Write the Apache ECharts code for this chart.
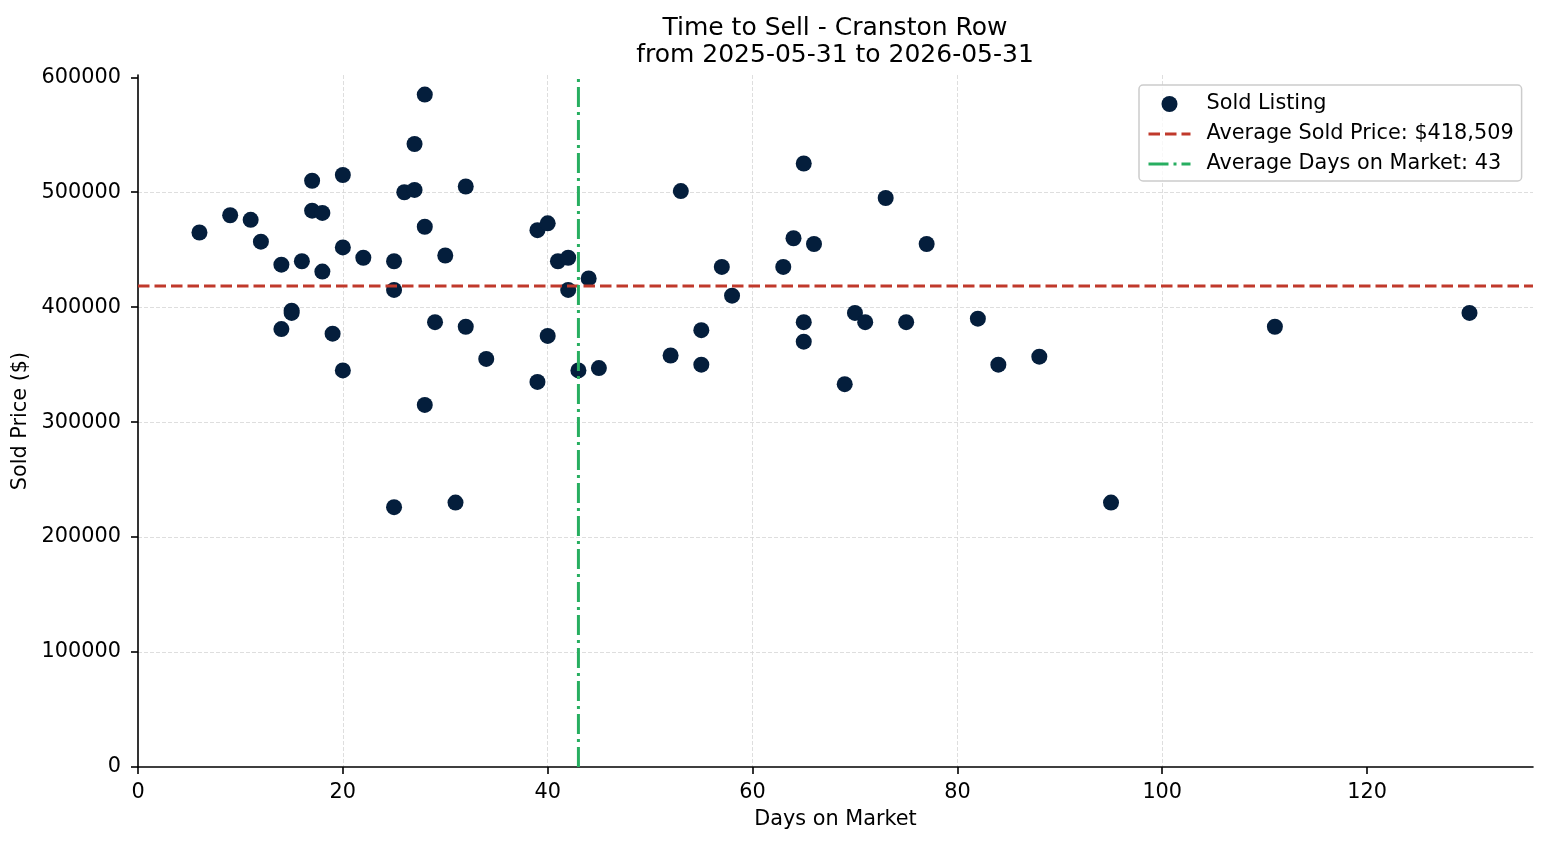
<!DOCTYPE html>
<html>
<head>
<meta charset="utf-8">
<script src="https://cdn.jsdelivr.net/npm/echarts@6/dist/echarts.min.js"></script>
<style>
html, body { margin: 0; padding: 0; background: #fff; }
#chart { width: 1547px; height: 845px; }
</style>
</head>
<body>
<div id="chart"></div>
<script>
// days on market / sold price for each sold listing
var days = [6, 9, 11, 12, 14, 14, 15, 15, 16, 17, 17, 18, 18, 19, 20, 20, 20, 22, 25, 25,
    25, 26, 27, 27, 28, 28, 28, 29, 30, 31, 32, 32, 34, 39, 39, 40, 40, 41, 42, 42,
    43, 44, 45, 52, 53, 55, 55, 57, 58, 63, 64, 65, 65, 65, 66, 69, 70, 71, 73, 75,
    77, 82, 84, 88, 95, 111, 130];
var prices = [465000, 480000, 476000, 457000, 437000, 381000, 397000, 395000, 440000, 510000,
    484000, 482000, 431000, 377000, 515000, 452000, 345000, 443000, 440000, 415000,
    226000, 500000, 502000, 542000, 585000, 470000, 315000, 387000, 445000, 230000,
    505000, 383000, 355000, 467000, 335000, 473000, 375000, 440000, 443000, 415000,
    345000, 425000, 347000, 358000, 501000, 380000, 350000, 435000, 410000, 435000,
    460000, 525000, 387000, 370000, 455000, 333000, 395000, 387000, 495000, 387000,
    455000, 390000, 350000, 357000, 230000, 383000, 395000];
var avgPrice = 418509;
var avgDays = 43;
var xTicks = [0, 20, 40, 60, 80, 100, 120];
var yTicks = [0, 100000, 200000, 300000, 400000, 500000, 600000];
var xMax = 136.2;
var yMax = 602000;

var font = 'DejaVu Sans';
var myChart = echarts.init(document.getElementById('chart'));

var points = days.map(function (d, i) { return [d, prices[i]]; });

var priceDash = { color: '#c0392b', width: 3, type: [11.5, 5] };
var daysDash = { color: '#27ae60', width: 3, type: [20, 5, 3, 5] };

var gridLine = {
    show: true,
    showMinLine: false,
    showMaxLine: false,
    lineStyle: { color: '#d6d6d6', width: 0.8, type: [4, 2] }
};

option = {
    animation: false,
    textStyle: { fontFamily: font },
    title: {
        text: 'Time to Sell - Cranston Row\nfrom 2025-05-31 to 2026-05-31',
        left: 835,
        top: 15,
        padding: 0,
        textAlign: 'center',
        textStyle: {
            fontFamily: font,
            fontSize: 25,
            fontWeight: 'normal',
            lineHeight: 27,
            color: '#000'
        }
    },
    legend: {
        orient: 'vertical',
        left: 1139,
        top: 85,
        padding: [8, 8, 6, 8],
        itemWidth: 42,
        itemHeight: 16,
        itemGap: 8,
        backgroundColor: 'rgba(255,255,255,0.8)',
        borderColor: '#cccccc',
        borderWidth: 1.5,
        borderRadius: 4,
        textStyle: {
            fontFamily: font,
            fontSize: 20.8,
            lineHeight: 22,
            color: '#000',
            padding: [0, 0, 0, 11]
        },
        data: [
            'Sold Listing',
            { name: 'Average Sold Price: $418,509', itemStyle: { opacity: 0 }, lineStyle: priceDash },
            { name: 'Average Days on Market: 43', itemStyle: { opacity: 0 }, lineStyle: daysDash }
        ]
    },
    grid: { left: 138, right: 14, top: 75, bottom: 78, containLabel: false, outerBoundsMode: 'none' },
    xAxis: {
        type: 'value',
        min: 0,
        max: xMax,
        interval: 20,
        name: 'Days on Market',
        nameLocation: 'middle',
        nameGap: 42,
        nameTextStyle: { fontFamily: font, fontSize: 20.8, color: '#000' },
        axisLine: { lineStyle: { color: '#000', width: 1.6 } },
        axisTick: { length: 7, lineStyle: { color: '#000', width: 1.6 }, customValues: xTicks },
        axisLabel: { fontFamily: font, fontSize: 20.8, color: '#000', margin: 15, customValues: xTicks },
        splitLine: gridLine
    },
    yAxis: {
        type: 'value',
        min: 0,
        max: yMax,
        interval: 100000,
        name: 'Sold Price ($)',
        nameLocation: 'middle',
        nameGap: 87,
        nameTextStyle: { fontFamily: font, fontSize: 20.8, color: '#000' },
        axisLine: { show: true, lineStyle: { color: '#000', width: 1.6 } },
        axisTick: { show: true, length: 7, lineStyle: { color: '#000', width: 1.6 }, customValues: yTicks },
        axisLabel: {
            fontFamily: font, fontSize: 20.8, color: '#000', margin: 17, customValues: yTicks,
            formatter: function (v) { return String(v); }
        },
        splitLine: gridLine
    },
    series: [
        {
            name: 'Sold Listing',
            type: 'scatter',
            symbol: 'circle',
            symbolSize: 16,
            itemStyle: { color: '#041e3c', opacity: 1 },
            data: points,
            z: 2
        },
        {
            name: 'Average Sold Price: $418,509',
            type: 'line',
            symbol: 'none',
            color: '#c0392b',
            lineStyle: priceDash,
            data: [[0, avgPrice], [xMax, avgPrice]],
            z: 3
        },
        {
            name: 'Average Days on Market: 43',
            type: 'line',
            symbol: 'none',
            color: '#27ae60',
            lineStyle: daysDash,
            data: [[avgDays, 0], [avgDays, yMax]],
            z: 3
        }
    ]
};
myChart.setOption(option);
</script>
</body>
</html>
